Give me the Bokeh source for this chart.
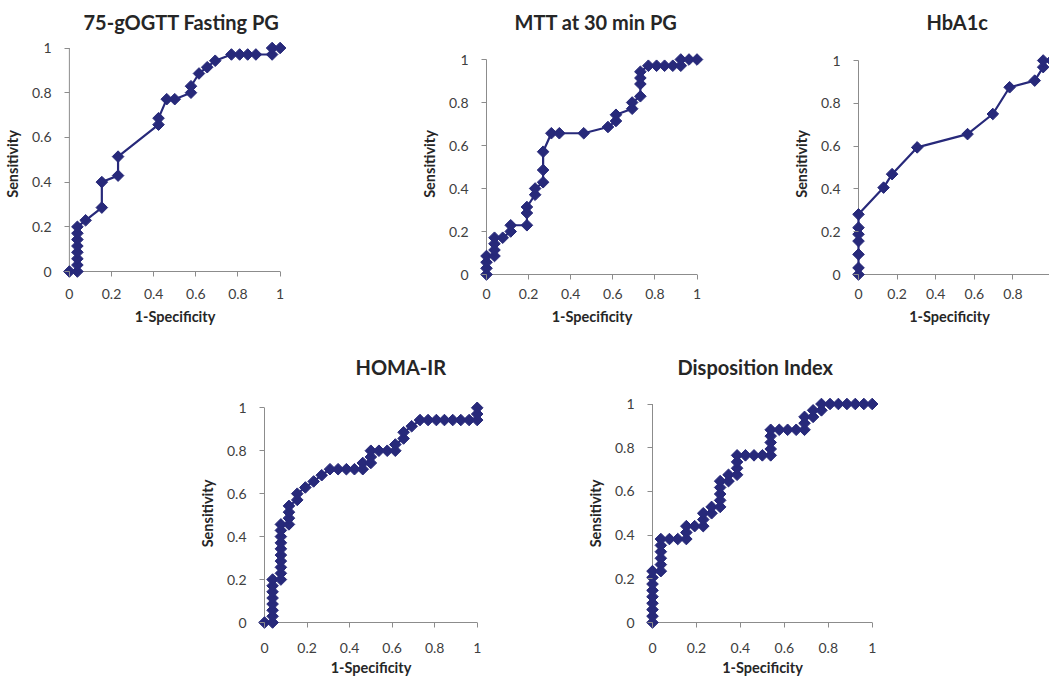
import numpy as np
from bokeh.plotting import figure
from bokeh.models import ColumnDataSource, Range1d, FixedTicker, Spacer
from bokeh.layouts import row, column
from bokeh.embed import file_html
from bokeh.resources import INLINE

# ---------------- data ----------------
tick_values = [0, 0.2, 0.4, 0.6, 0.8, 1]
tick_labels = ["0", "0.2", "0.4", "0.6", "0.8", "1"]

fpg_x = [0, 0.038, 0.038, 0.038, 0.038, 0.038, 0.038, 0.038, 0.038, 0.077, 0.154, 0.154,
         0.231, 0.231, 0.423, 0.423, 0.462, 0.5, 0.577, 0.577, 0.615, 0.654, 0.692, 0.769,
         0.808, 0.846, 0.885, 0.962, 0.962, 1.0]
fpg_y = [0, 0, 0.029, 0.057, 0.086, 0.114, 0.143, 0.171, 0.2, 0.229, 0.286, 0.4,
         0.429, 0.514, 0.657, 0.686, 0.771, 0.771, 0.8, 0.829, 0.886, 0.914, 0.943, 0.971,
         0.971, 0.971, 0.971, 0.971, 1.0, 1.0]

mtt_x = [0, 0, 0, 0, 0.038, 0.038, 0.038, 0.038, 0.077, 0.115, 0.115, 0.192, 0.192, 0.192,
         0.231, 0.231, 0.269, 0.269, 0.269, 0.308, 0.346, 0.462, 0.577, 0.615, 0.615, 0.692,
         0.692, 0.731, 0.731, 0.731, 0.731, 0.769, 0.808, 0.846, 0.885, 0.923, 0.923, 0.962, 1.0]
mtt_y = [0, 0.029, 0.057, 0.086, 0.086, 0.114, 0.143, 0.171, 0.171, 0.2, 0.229, 0.229, 0.286, 0.314,
         0.371, 0.4, 0.429, 0.486, 0.571, 0.657, 0.657, 0.657, 0.686, 0.714, 0.743, 0.771,
         0.8, 0.829, 0.886, 0.914, 0.943, 0.971, 0.971, 0.971, 0.971, 0.971, 1.0, 1.0, 1.0]

hba_x = [0, 0, 0, 0, 0, 0, 0, 0.130, 0.174, 0.304, 0.565, 0.696, 0.783, 0.913, 0.957, 0.957, 1.0]
hba_y = [0, 0.031, 0.094, 0.156, 0.188, 0.219, 0.281, 0.406, 0.469, 0.594, 0.656, 0.75, 0.875,
         0.906, 0.969, 1.0, 1.0]

homa_x = [0,
          0.038, 0.038, 0.038, 0.038, 0.038, 0.038, 0.038, 0.038,
          0.077, 0.077, 0.077, 0.077, 0.077, 0.077, 0.077, 0.077, 0.077, 0.077,
          0.115, 0.115, 0.115, 0.115, 0.154, 0.154, 0.192, 0.231, 0.269, 0.308, 0.346,
          0.385, 0.423, 0.462, 0.462, 0.5, 0.5, 0.5, 0.538, 0.577, 0.615, 0.615,
          0.654, 0.654, 0.692, 0.731, 0.769, 0.808, 0.846, 0.885, 0.923, 0.962,
          1.0, 1.0, 1.0]
homa_y = [0,
          0, 0.029, 0.057, 0.086, 0.114, 0.143, 0.171, 0.2,
          0.2, 0.229, 0.257, 0.286, 0.314, 0.343, 0.371, 0.4, 0.429, 0.457,
          0.457, 0.486, 0.514, 0.543, 0.571, 0.6, 0.629, 0.657, 0.686, 0.714, 0.714,
          0.714, 0.714, 0.714, 0.743, 0.743, 0.771, 0.8, 0.8, 0.8, 0.8, 0.829,
          0.857, 0.886, 0.914, 0.943, 0.943, 0.943, 0.943, 0.943, 0.943, 0.943,
          0.943, 0.971, 1.0]

di_x = [0, 0, 0, 0, 0, 0, 0, 0, 0,
        0.038, 0.038, 0.038, 0.038, 0.038, 0.038,
        0.077, 0.115, 0.154, 0.154, 0.154, 0.192, 0.231, 0.231, 0.231,
        0.269, 0.269, 0.308, 0.308, 0.308, 0.308, 0.308, 0.346, 0.346,
        0.385, 0.385, 0.385, 0.385, 0.423, 0.462, 0.5,
        0.538, 0.538, 0.538, 0.538, 0.538, 0.577, 0.615, 0.654,
        0.692, 0.692, 0.692, 0.731, 0.731, 0.769, 0.769,
        0.808, 0.846, 0.885, 0.923, 0.962, 1.0]
di_y = [0, 0.029, 0.059, 0.088, 0.118, 0.147, 0.176, 0.206, 0.235,
        0.235, 0.265, 0.294, 0.324, 0.353, 0.382,
        0.382, 0.382, 0.382, 0.412, 0.441, 0.441, 0.441, 0.471, 0.5,
        0.5, 0.529, 0.529, 0.559, 0.588, 0.618, 0.647, 0.647, 0.676,
        0.676, 0.706, 0.735, 0.765, 0.765, 0.765, 0.765,
        0.765, 0.794, 0.824, 0.853, 0.882, 0.882, 0.882, 0.882,
        0.882, 0.912, 0.941, 0.941, 0.971, 0.971, 1.0,
        1.0, 1.0, 1.0, 1.0, 1.0, 1.0]

titles = ["75-gOGTT Fasting PG", "MTT at 30 min PG", "HbA1c", "HOMA-IR", "Disposition Index"]
x_title = "1-Specificity"
y_title = "Sensitivity"

# ---------------- styling ----------------
NAVY = "#27297a"
AXIS_GREY = "#8c8c8c"
FONT = "Lato"


def make_panel(title, xs, ys, canvas_w, canvas_h, frame, anchors, title_offset, xlab_standoff):
    """frame = (left, top, width, height) in canvas px; anchors = pixel (x0, x1, y0, y1) of data 0/1."""
    fl, ft, fw, fh = frame
    x0p, x1p, y0p, y1p = anchors
    xppu = x1p - x0p
    yppu = y0p - y1p
    xr = Range1d((fl - x0p) / xppu, (fl + fw - x0p) / xppu)
    yr = Range1d((y0p - (ft + fh)) / yppu, (y0p - ft) / yppu)
    xpad = x0p - fl                 # px between frame's left edge and x = 0
    ypad = (ft + fh) - y0p          # px between frame's bottom edge and y = 0

    p = figure(width=canvas_w, height=canvas_h, x_range=xr, y_range=yr,
               toolbar_location=None, output_backend="svg",
               min_border_left=fl, min_border_right=canvas_w - fl - fw,
               min_border_top=ft, min_border_bottom=canvas_h - ft - fh)
    p.grid.visible = False
    p.outline_line_color = None
    p.background_fill_color = "white"
    p.border_fill_color = "white"

    overrides = dict(zip(tick_values, tick_labels))
    for ax, pad in ((p.xaxis[0], ypad), (p.yaxis[0], xpad)):
        ax.ticker = FixedTicker(ticks=tick_values, minor_ticks=[])
        ax.major_label_overrides = overrides
        ax.axis_line_color = None
        ax.major_tick_line_color = AXIS_GREY
        ax.major_tick_in = int(round(pad))
        ax.major_tick_out = -int(round(pad)) + 5
        ax.minor_tick_line_color = None
        ax.major_label_text_font = FONT
        ax.major_label_text_font_size = "14px"
        ax.major_label_text_color = "#404040"
        ax.axis_label_text_font = FONT
        ax.axis_label_text_font_size = "14.5px"
        ax.axis_label_text_font_style = "bold"
        ax.axis_label_text_color = "#262626"
    p.xaxis[0].axis_label = x_title
    p.yaxis[0].axis_label = y_title
    p.xaxis[0].major_label_standoff = -1
    p.xaxis[0].axis_label_standoff = xlab_standoff
    p.yaxis[0].major_label_standoff = 9
    p.yaxis[0].axis_label_standoff = 8

    # axis lines at x = 0 and y = 0, spanning the tick range
    t0, t1 = tick_values[0], tick_values[-1]
    p.segment(x0=[t0, t0], y0=[t0, t0], x1=[t1, t0], y1=[t0, t1], line_color=AXIS_GREY, line_width=1)

    src = ColumnDataSource(dict(x=xs, y=ys))
    p.line("x", "y", source=src, line_color=NAVY, line_width=2.2)
    p.scatter("x", "y", source=src, marker="square", size=8.2, angle=np.pi / 4,
              fill_color=NAVY, line_color=NAVY, line_width=1)

    p.title.text = title
    p.title.align = "left"
    p.title.offset = title_offset
    p.title.text_font = FONT
    p.title.text_font_style = "bold"
    p.title.text_font_size = "20px"
    p.title.text_color = "#262626"
    return p


# row 1: canvas heights 340, frames share top 38 and height 251
f1 = make_panel(titles[0], fpg_x, fpg_y, 380, 340, (57, 38, 232, 251), (66, 279.5, 271, 47.5), 23, 6)
f2 = make_panel(titles[1], mtt_x, mtt_y, 400, 340, (97, 38, 229, 251), (106, 316.5, 274, 59), 37, 6)
f3 = make_panel(titles[2], hba_x, hba_y, 269, 340, (69, 38, 200, 251), (78, 271, 274, 60), 77, 6)
# row 2: canvas heights 338, frames share top 43 and height 260
f4 = make_panel(titles[3], homa_x, homa_y, 385, 338, (80, 43, 231, 260), (89, 301.7, 282, 67.3), 100, 3)
f5 = make_panel(titles[4], di_x, di_y, 440, 338, (83, 43, 238, 260), (92, 311.7, 282, 63.5), 34, 3)

layout = column(row(f1, f2, f3), row(Spacer(width=175, height=338), f4, f5))

open("out.html", "w").write(file_html(layout, INLINE))
